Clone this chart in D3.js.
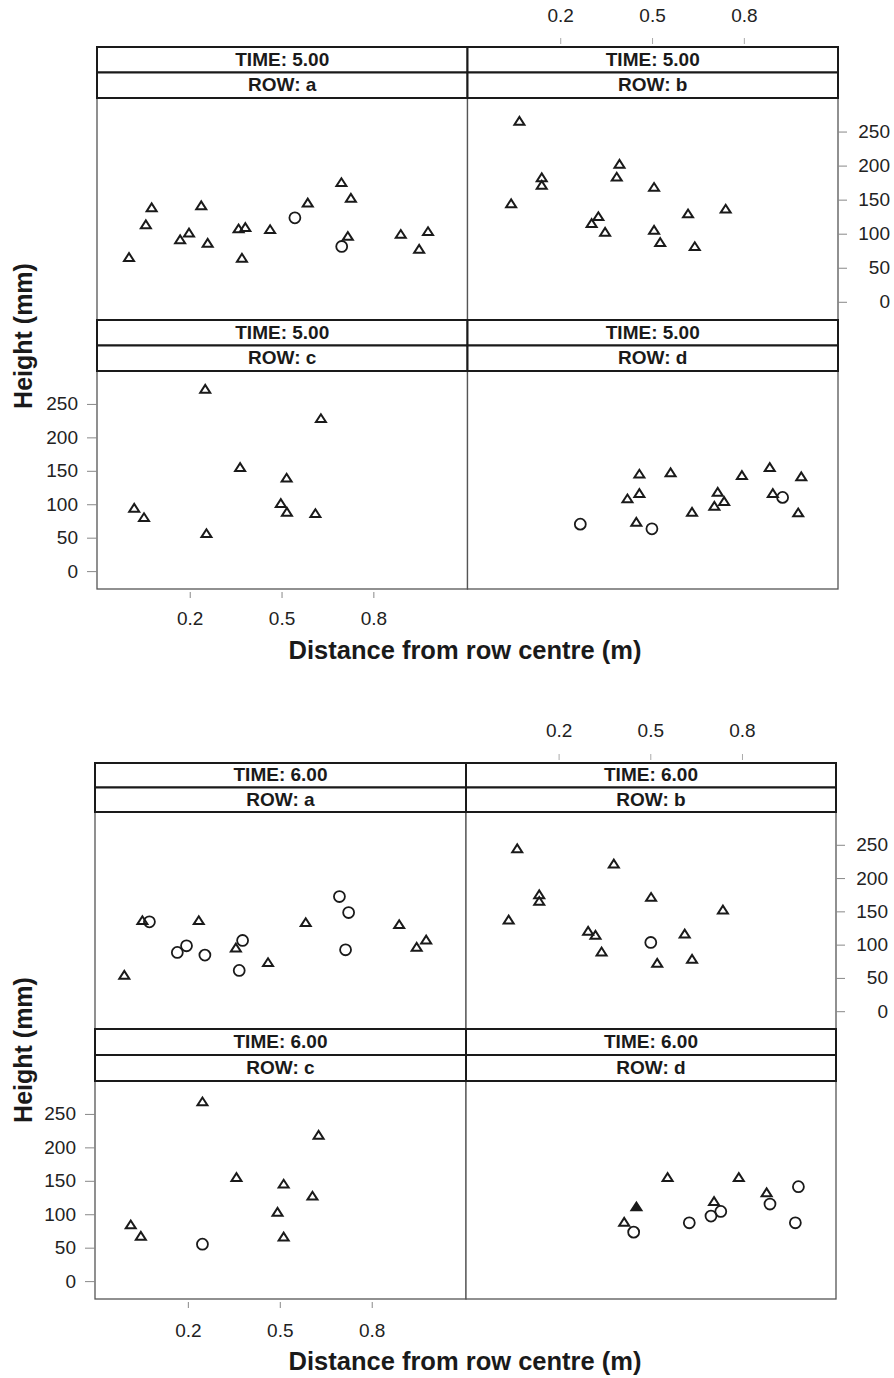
<!DOCTYPE html>
<html><head><meta charset="utf-8">
<script src="https://cdn.jsdelivr.net/npm/d3@7"></script>
<style>
html,body{margin:0;padding:0;background:#fff;}
svg{display:block;font-family:"Liberation Sans",Arial,Helvetica,sans-serif;}
</style></head>
<body>
<svg id="chart" width="894" height="1378"></svg>
<script>
// ---- data (distance from row centre in m, height in mm, symbol) ----
const times = ["5.00", "6.00"];
const rows = ["a", "b", "c", "d"];
const xTicks = [0.2, 0.5, 0.8];
const xTickLabels = ["0.2", "0.5", "0.8"];
const yTicks = [0, 50, 100, 150, 200, 250];
const yTickLabels = ["0", "50", "100", "150", "200", "250"];

const t5a_dist = [0.00,0.055,0.074,0.167,0.196,0.236,0.257,0.358,0.380,0.369,0.461,0.542,0.584,0.694,0.725,0.715,0.695,0.888,0.948,0.977];
const t5a_height = [66,114,139,92,102,142,87,108,110,65,107,124,146,176,153,97,82,100,78,104];
const t5a_shape = ["t","t","t","t","t","t","t","t","t","t","t","c","t","t","t","t","c","t","t","t"];

const t5b_dist = [0.065,0.138,0.138,0.038,0.392,0.383,0.505,0.323,0.301,0.345,0.505,0.525,0.616,0.638,0.739];
const t5b_height = [266,183,172,145,203,184,169,126,116,103,106,88,130,82,137];
const t5b_shape = ["t","t","t","t","t","t","t","t","t","t","t","t","t","t","t"];

const t5c_dist = [0.017,0.049,0.249,0.253,0.363,0.496,0.515,0.516,0.609,0.627];
const t5c_height = [95,81,273,57,156,102,140,89,87,229];
const t5c_shape = ["t","t","t","t","t","t","t","t","t","t"];

const t5d_dist = [0.264,0.418,0.457,0.457,0.447,0.498,0.559,0.629,0.702,0.713,0.734,0.792,0.883,0.893,0.925,0.986,0.976];
const t5d_height = [71,109,146,117,74,64,148,89,98,119,105,144,156,117,111,142,88];
const t5d_shape = ["c","t","t","t","t","c","t","t","t","t","t","t","t","t","c","t","t"];

const t6a_dist = [-0.009,0.050,0.073,0.164,0.194,0.234,0.254,0.377,0.355,0.366,0.460,0.583,0.693,0.723,0.713,0.888,0.945,0.976];
const t6a_height = [55,137,135,89,99,137,85,107,96,62,74,134,173,149,93,131,97,108];
const t6a_shape = ["t","t","c","c","c","t","c","c","t","c","t","t","c","c","c","t","t","t"];

const t6b_dist = [0.063,0.379,0.135,0.135,0.035,0.501,0.736,0.295,0.319,0.339,0.500,0.611,0.521,0.635];
const t6b_height = [245,222,176,166,138,172,153,121,115,90,104,117,73,79];
const t6b_shape = ["t","t","t","t","t","t","t","t","t","t","c","t","t","t"];

const t6c_dist = [0.012,0.045,0.246,0.246,0.357,0.511,0.491,0.511,0.605,0.625];
const t6c_height = [85,68,269,56,156,146,104,67,128,219];
const t6c_shape = ["t","t","t","c","t","t","t","t","t","t"];

const t6d_dist = [0.413,0.453,0.444,0.555,0.626,0.707,0.697,0.729,0.788,0.879,0.890,0.983,0.973];
const t6d_height = [89,112,74,156,88,120,98,105,156,133,116,142,88];
const t6d_shape = ["t","f","c","t","c","t","c","c","t","t","c","c","c"];

const panelData = {
  "5.00": {a:[t5a_dist,t5a_height,t5a_shape], b:[t5b_dist,t5b_height,t5b_shape], c:[t5c_dist,t5c_height,t5c_shape], d:[t5d_dist,t5d_height,t5d_shape]},
  "6.00": {a:[t6a_dist,t6a_height,t6a_shape], b:[t6b_dist,t6b_height,t6b_shape], c:[t6c_dist,t6c_height,t6c_shape], d:[t6d_dist,t6d_height,t6d_shape]}
};

// ---- layout ----
const figs = [
  {time:"5.00", cols:[97,467.5,838], rowTops:[47,320], panelTops:[98,371], panelBots:[320,589], topLab:17, xLab:620, xTitle:652, yTitle:336},
  {time:"6.00", cols:[95,466,836], rowTops:[763,1029], panelTops:[812,1081], panelBots:[1029,1299], topLab:732, xLab:1332, xTitle:1363, yTitle:1050}
];
const xDomain = [-0.1046, 1.106];
const yDomain = [-26, 300];
const ink = "#1a1a1a";

const triType = {draw(ctx, size){ ctx.moveTo(-5,3.6); ctx.lineTo(5,3.6); ctx.lineTo(0,-4.2); ctx.closePath(); }};

const svg = d3.select("#chart");

figs.forEach(f => {
  const g = svg.append("g");
  const data = panelData[f.time];
  rows.forEach((r, i) => {
    const ci = i % 2, ri = i < 2 ? 0 : 1;
    const x0 = f.cols[ci], x1 = f.cols[ci+1];
    const pTop = f.panelTops[ri], pBot = f.panelBots[ri], sTop = f.rowTops[ri];
    const x = d3.scaleLinear().domain(xDomain).range([x0, x1]);
    const y = d3.scaleLinear().domain(yDomain).range([pBot, pTop]);
    const sh = (pTop - sTop) / 2;

    // panel border
    g.append("rect").attr("x", x0).attr("y", pTop).attr("width", x1-x0).attr("height", pBot-pTop)
      .attr("fill", "#fff").attr("stroke", "#555").attr("stroke-width", 1.3);

    // strips
    [ "TIME: " + f.time, "ROW: " + r ].forEach((t, k) => {
      g.append("rect").attr("x", x0).attr("y", sTop + k*sh).attr("width", x1-x0).attr("height", sh)
        .attr("fill", "#fff").attr("stroke", ink).attr("stroke-width", 2);
      g.append("text").attr("x", (x0+x1)/2).attr("y", sTop + k*sh + sh/2 + 1)
        .attr("text-anchor", "middle").attr("dominant-baseline", "middle")
        .attr("font-size", 19).attr("font-weight", "bold").attr("fill", ink).text(t);
    });

    // axes
    const axG = g.append("g");
    if (ci === 0 && ri === 1) {
      xTicks.forEach((v, k) => {
        axG.append("line").attr("x1", x(v)).attr("x2", x(v)).attr("y1", pBot+3).attr("y2", pBot+9).attr("stroke", "#888").attr("stroke-width", 1);
        axG.append("text").attr("x", x(v)).attr("y", f.xLab).attr("text-anchor", "middle").attr("dominant-baseline", "middle")
          .attr("font-size", 19).attr("fill", "#222").text(xTickLabels[k]);
      });
      yTicks.forEach((v, k) => {
        axG.append("line").attr("x1", x0-10).attr("x2", x0).attr("y1", y(v)).attr("y2", y(v)).attr("stroke", "#888").attr("stroke-width", 1);
        axG.append("text").attr("x", x0-19).attr("y", y(v)+1).attr("text-anchor", "end").attr("dominant-baseline", "middle")
          .attr("font-size", 19).attr("fill", "#222").text(yTickLabels[k]);
      });
    }
    if (ci === 1 && ri === 0) {
      xTicks.forEach((v, k) => {
        axG.append("line").attr("x1", x(v)).attr("x2", x(v)).attr("y1", sTop-9).attr("y2", sTop-3).attr("stroke", "#aaa").attr("stroke-width", 1);
        axG.append("text").attr("x", x(v)).attr("y", f.topLab).attr("text-anchor", "middle").attr("dominant-baseline", "middle")
          .attr("font-size", 19).attr("fill", "#222").text(xTickLabels[k]);
      });
      yTicks.forEach((v, k) => {
        axG.append("line").attr("x1", x1).attr("x2", x1+9).attr("y1", y(v)).attr("y2", y(v)).attr("stroke", "#888").attr("stroke-width", 1);
        axG.append("text").attr("x", x1+52).attr("y", y(v)+1).attr("text-anchor", "end").attr("dominant-baseline", "middle")
          .attr("font-size", 19).attr("fill", "#222").text(yTickLabels[k]);
      });
    }

    // points
    const [dx, dy, ds] = data[r];
    const pts = dx.map((v, k) => ({d: v, h: dy[k], s: ds[k]}));
    g.selectAll(null).data(pts).enter().append("path")
      .attr("transform", p => `translate(${x(p.d)},${y(p.h)})`)
      .attr("d", p => p.s === "c" ? d3.symbol().type(d3.symbolCircle).size(Math.PI*30)() : d3.symbol().type(triType)())
      .attr("fill", p => p.s === "f" ? ink : "none")
      .attr("stroke", ink)
      .attr("stroke-width", p => p.s === "c" ? 1.8 : 2);
  });

  // titles
  g.append("text").attr("x", 465).attr("y", f.xTitle).attr("text-anchor", "middle").attr("dominant-baseline", "middle")
    .attr("font-size", 25.5).attr("font-weight", "bold").attr("fill", ink).text("Distance from row centre (m)");
  g.append("text").attr("transform", `translate(25,${f.yTitle}) rotate(-90)`).attr("text-anchor", "middle").attr("dominant-baseline", "middle")
    .attr("font-size", 25).attr("font-weight", "bold").attr("fill", ink).text("Height (mm)");
});
</script>
</body></html>
